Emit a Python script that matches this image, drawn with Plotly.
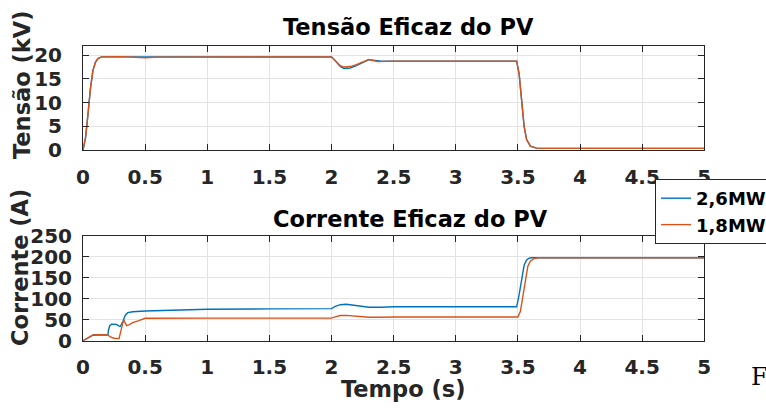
import plotly.graph_objects as go

# ---- data ----
# RMS voltage of the PV plant (kV)
t_v_26 = [0, 0.02, 0.04, 0.06, 0.08, 0.10, 0.12, 0.15, 0.30, 0.50, 1.00, 1.50, 2.00,
          2.03, 2.07, 2.10, 2.15, 2.20, 2.25, 2.30, 2.35, 2.40, 2.50, 3.00, 3.49,
          3.51, 3.53, 3.55, 3.57, 3.60, 3.65, 3.70, 4.00, 5.00]
v_26 = [0, 2.5, 7.5, 13.0, 16.8, 18.5, 19.3, 19.65, 19.65, 19.65, 19.65, 19.65, 19.65,
        18.8, 17.6, 17.2, 17.3, 17.8, 18.5, 19.05, 18.9, 18.75, 18.75, 18.75, 18.75,
        16.0, 10.0, 5.0, 2.2, 0.8, 0.4, 0.35, 0.35, 0.35]

t_v_18 = [0, 0.02, 0.04, 0.06, 0.08, 0.10, 0.12, 0.15, 0.30, 0.40, 0.50, 0.60, 1.00, 1.50, 2.00,
          2.03, 2.07, 2.10, 2.15, 2.20, 2.25, 2.30, 2.37, 2.45, 2.50, 3.00, 3.49,
          3.51, 3.53, 3.55, 3.57, 3.60, 3.65, 3.70, 4.00, 5.00]
v_18 = [0, 2.5, 7.5, 13.0, 16.8, 18.5, 19.3, 19.65, 19.7, 19.6, 19.45, 19.6, 19.65, 19.65, 19.65,
        18.9, 17.8, 17.5, 17.6, 18.0, 18.6, 19.1, 18.65, 18.8, 18.75, 18.75, 18.75,
        16.0, 10.0, 5.0, 2.2, 0.8, 0.4, 0.35, 0.35, 0.35]

# RMS current of the PV plant (A)
t_i_26 = [0, 0.03, 0.06, 0.08, 0.12, 0.20, 0.205, 0.215, 0.23, 0.27, 0.29, 0.30, 0.32,
          0.34, 0.36, 0.40, 0.50, 0.70, 1.00, 1.50, 2.00, 2.03, 2.07, 2.12, 2.18, 2.25,
          2.30, 2.40, 2.50, 3.00, 3.49, 3.51, 3.53, 3.55, 3.57, 3.59, 3.61, 4.00, 5.00]
i_26 = [0, 5, 11, 13, 13.5, 13.5, 25, 36, 39.5, 39, 35, 34, 45,
        61, 67, 69, 71, 73, 75, 76, 76.5, 82, 86, 87, 85, 82,
        80, 80, 81, 81, 81, 110, 150, 180, 193, 197, 198, 198, 198]

t_i_18 = [0, 0.03, 0.06, 0.08, 0.12, 0.20, 0.22, 0.25, 0.29, 0.30, 0.32, 0.33,
          0.35, 0.37, 0.40, 0.45, 0.50, 1.00, 1.50, 2.00, 2.03, 2.07, 2.12, 2.18,
          2.25, 2.30, 2.40, 2.50, 3.00, 3.50, 3.52, 3.54, 3.56, 3.58, 3.60, 3.63, 3.66, 4.00, 5.00]
i_18 = [0, 6, 12, 14, 14.5, 14, 9, 6, 5, 20, 42, 49,
        36, 38, 43, 48, 53.5, 54, 54, 54, 57, 60, 60.5, 59,
        57, 56, 56, 56.5, 56.5, 56.5, 70, 110, 150, 178, 190, 196, 198, 198, 198]

series_names = ["2,6MW", "1,8MW"]
series_colors = ["#0072BD", "#D95319"]

x_ticks = [0, 0.5, 1, 1.5, 2, 2.5, 3, 3.5, 4, 4.5, 5]
x_tick_text = ["0", "0.5", "1", "1.5", "2", "2.5", "3", "3.5", "4", "4.5", "5"]
v_ticks = [0, 5, 10, 15, 20]
i_ticks = [0, 50, 100, 150, 200, 250]

title_top = "Tensão Eficaz do PV"
title_bottom = "Corrente Eficaz do PV"
ylabel_top = "Tensão (kV)"
ylabel_bottom = "Corrente (A)"
xlabel = "Tempo (s)"

# ---- layout helpers (pixel -> paper) ----
W, H = 766, 408
def px(x):
    return x / W
def py(y):
    return 1 - y / H

FONT = "DejaVu Sans"
TXT = "#262626"

fig = go.Figure()

fig.add_trace(go.Scatter(x=t_v_26, y=v_26, mode="lines", name=series_names[0],
                         line=dict(color=series_colors[0], width=1.4),
                         xaxis="x", yaxis="y", showlegend=False))
fig.add_trace(go.Scatter(x=t_v_18, y=v_18, mode="lines", name=series_names[1],
                         line=dict(color=series_colors[1], width=1.4),
                         xaxis="x", yaxis="y", showlegend=False))
fig.add_trace(go.Scatter(x=t_i_26, y=i_26, mode="lines", name=series_names[0],
                         line=dict(color=series_colors[0], width=1.4),
                         xaxis="x2", yaxis="y2"))
fig.add_trace(go.Scatter(x=t_i_18, y=i_18, mode="lines", name=series_names[1],
                         line=dict(color=series_colors[1], width=1.4),
                         xaxis="x2", yaxis="y2"))

axis_common = dict(
    showline=True, linecolor=TXT, linewidth=1, mirror="ticks",
    ticks="inside", ticklen=6, tickcolor=TXT, tickwidth=1,
    showgrid=True, gridcolor="#e3e3e3", gridwidth=1, zeroline=False,
    tickfont=dict(family=FONT, size=20, color=TXT, weight="bold"),
)

xdom = [px(83), px(704.3)]
fig.update_layout(
    width=W, height=H,
    margin=dict(l=0, r=0, t=0, b=0, autoexpand=False),
    paper_bgcolor="white", plot_bgcolor="white",
    xaxis=dict(domain=xdom, range=[0, 5], tickvals=x_ticks, ticktext=x_tick_text,
               anchor="y", ticklabelstandoff=9, automargin=False, **axis_common),
    yaxis=dict(domain=[py(150), py(45.7)], range=[0, 22], tickvals=v_ticks,
               anchor="x", ticklabelstandoff=16, automargin=False, **axis_common),
    xaxis2=dict(domain=xdom, range=[0, 5], tickvals=x_ticks, ticktext=x_tick_text,
                anchor="y2", ticklabelstandoff=8, automargin=False, **axis_common),
    yaxis2=dict(domain=[py(340.7), py(236)], range=[0, 250], tickvals=i_ticks,
                anchor="x2", ticklabelstandoff=6, automargin=False, **axis_common),
    legend=dict(x=px(655), y=py(179), xanchor="left", yanchor="top",
                bgcolor="white", bordercolor=TXT, borderwidth=1,
                font=dict(family=FONT, size=18, color="black", weight="bold"),
                itemwidth=30, tracegroupgap=0),
    showlegend=True,
)

ann_font_title = dict(family=FONT, size=22.5, color="black", weight="bold")
ann_font_label = dict(family=FONT, size=22.5, color=TXT, weight="bold")
fig.add_annotation(text=title_top, x=px(409), y=py(27), xref="paper", yref="paper",
                   showarrow=False, font=ann_font_title, xanchor="center", yanchor="middle")
fig.add_annotation(text=title_bottom, x=px(411), y=py(219), xref="paper", yref="paper",
                   showarrow=False, font=ann_font_title, xanchor="center", yanchor="middle")
fig.add_annotation(text=ylabel_top, x=px(22), y=py(85), xref="paper", yref="paper",
                   showarrow=False, font=ann_font_label, textangle=-90,
                   xanchor="center", yanchor="middle")
fig.add_annotation(text=ylabel_bottom, x=px(20), y=py(268), xref="paper", yref="paper",
                   showarrow=False, font=ann_font_label, textangle=-90,
                   xanchor="center", yanchor="middle")
fig.add_annotation(text=xlabel, x=px(402.5), y=py(389), xref="paper", yref="paper",
                   showarrow=False, font=ann_font_label, xanchor="center", yanchor="middle")
# running text of the surrounding page
fig.add_annotation(text="F", x=px(749), y=py(377), xref="paper", yref="paper",
                   showarrow=False, xanchor="left", yanchor="middle",
                   font=dict(family="DejaVu Serif", size=24, color="black"))

fig.write_html("out.html")
